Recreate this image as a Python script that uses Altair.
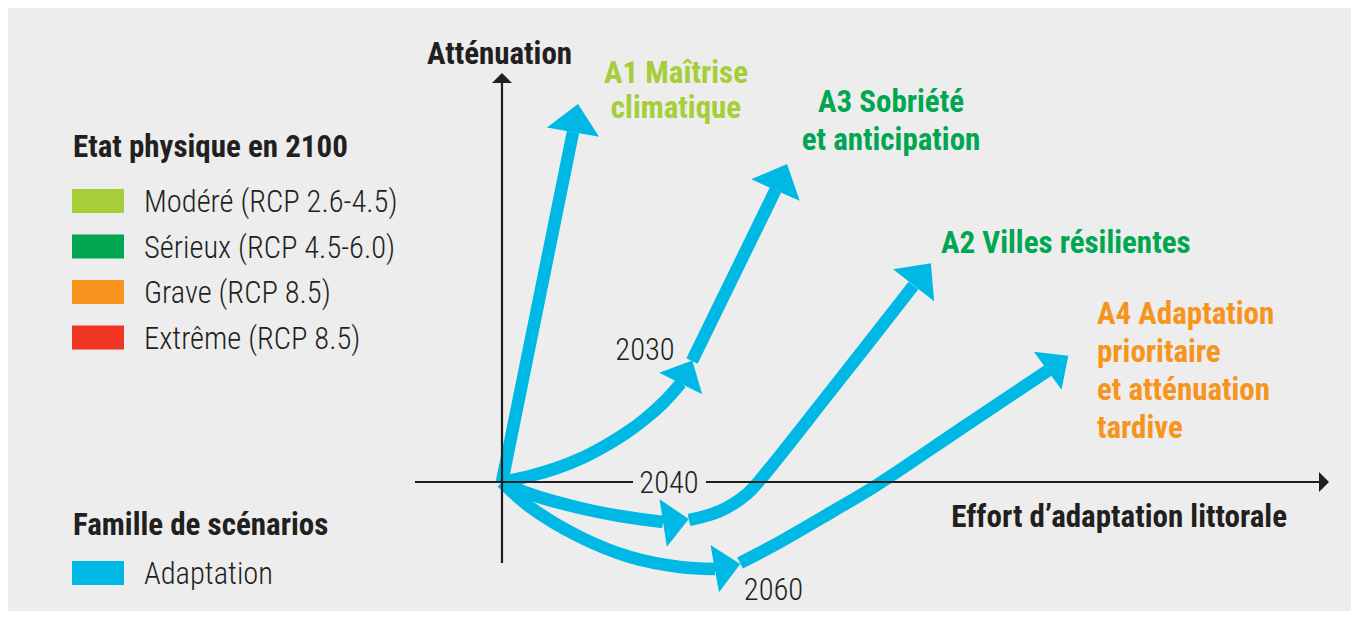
import altair as alt
import pandas as pd
import numpy as np

# ---------------------------------------------------------------
# Frame: x = effort d'adaptation littorale, y = atténuation
# (origin at the crossing of the two axes)
# ---------------------------------------------------------------
X_DOMAIN = [-494, 849]
Y_DOMAIN = [-129, 474]
W, H = 1343, 603

CYAN = "#00b8e4"
INK = "#231f20"
BG = "#ededed"

# ---- scenario trajectories (segments between arrowheads) ----
a1_path = [(0, 0), (71, 350)]
a3_path_1 = [(0, 0), (28, 6), (55, 14), (80, 24), (103, 36), (124, 49), (143, 63), (162, 80), (179, 99)]
a3_path_2 = [(190, 121), (273.5, 292)]
a2_path_1 = [(0, 0), (28, -12), (78, -26), (118, -34), (161, -40)]
a2_path_2 = [(187, -38), (218, -29), (245, -12), (258, 2), (328, 90), (411.5, 196.5)]
a4_path_1 = [(0, 0), (28, -25), (78, -55), (128, -75), (178, -85), (213, -87)]
a4_path_2 = [(238, -81), (278, -60), (328, -31), (375, -3), (460, 54), (546, 111.5)]

# ---- arrowheads: tip and base-middle points, base width ----
head_names = ["A1", "A3", "2030", "A2", "2040", "A4", "2060"]
head_tip_x = [76, 285, 190, 429, 187, 566, 238]
head_tip_y = [378, 318, 121, 219, -37, 126, -82]
head_base_x = [71, 273.5, 179, 411.5, 161, 546, 213]
head_base_y = [350, 292, 99, 196.5, -41, 111.5, -86.5]
head_width = [53, 53, 48, 52, 48, 47, 48]

# ---- axes ----
h_axis_x = [(-87, 131), (204, 817)]   # gap for the "2040" label
v_axis_y = (-81, 399)
axis_tip_x = 827
axis_tip_y = 409

# ---- scenario labels ----
scen_lines = [
    ["A1 Maîtrise", "climatique"],
    ["A3 Sobriété", "et anticipation"],
    ["A2 Villes résilientes"],
    ["A4 Adaptation", "prioritaire", "et atténuation", "tardive"],
]
scen_colors = ["#a6ce39", "#00a651", "#00a651", "#f7941d"]
scen_anchor_x = [174, 389, 439, 595]
scen_anchor_y = [399, 370, 229, 158]
scen_align = ["center", "center", "left", "left"]
scen_step = [35, 38, 38, 38]

year_labels = ["2030", "2040", "2060"]
year_x = [143, 167, 271.5]
year_y = [122, -11, -118]

# ---- legend ----
legend_title_1 = "Etat physique en 2100"
legend_items_1 = ["Modéré (RCP 2.6-4.5)", "Sérieux (RCP 4.5-6.0)", "Grave (RCP 8.5)", "Extrême (RCP 8.5)"]
legend_colors_1 = ["#a6ce39", "#00a651", "#f7941d", "#ef3524"]
legend_title_2 = "Famille de scénarios"
legend_items_2 = ["Adaptation"]
legend_colors_2 = [CYAN]

BOLD_FONT = "Roboto Condensed, Liberation Sans Narrow, DejaVu Sans Condensed, Roboto, sans-serif"
LIGHT_FONT = "Roboto Condensed, Liberation Sans Narrow, DejaVu Sans Condensed, Roboto, sans-serif"
BOLD_SIZE = 31
LIGHT_SIZE = 30.5

XS = alt.Scale(domain=X_DOMAIN, nice=False, zero=False)
YS = alt.Scale(domain=Y_DOMAIN, nice=False, zero=False)


def X(f="x"):
    return alt.X(f"{f}:Q", scale=XS, axis=None)


def Y(f="y"):
    return alt.Y(f"{f}:Q", scale=YS, axis=None)


# trajectories
rows = []
for seg, path in [("a1", a1_path), ("a3_1", a3_path_1), ("a3_2", a3_path_2),
                  ("a2_1", a2_path_1), ("a2_2", a2_path_2),
                  ("a4_1", a4_path_1), ("a4_2", a4_path_2)]:
    for i, (px, py) in enumerate(path):
        rows.append({"seg": seg, "order": i, "x": px, "y": py})
lines_df = pd.DataFrame(rows)

lines = alt.Chart(lines_df).mark_line(
    color=CYAN, strokeWidth=12.5, interpolate="catmull-rom", strokeCap="butt", strokeJoin="round"
).encode(x=X(), y=Y(), detail="seg:N", order="order:Q")

# arrowheads
tx, ty = np.array(head_tip_x, float), np.array(head_tip_y, float)
bx, by = np.array(head_base_x, float), np.array(head_base_y, float)
heads_df = pd.DataFrame({
    "name": head_names,
    "x": (tx + bx) / 2,
    "y": (ty + by) / 2,
    "angle": np.mod(np.degrees(np.arctan2(tx - bx, ty - by)), 360),
    "size": np.array(head_width, float) ** 2,
})
TRI = "M0,-0.54L1,0.54L-1,0.54Z"
heads = alt.Chart(heads_df).mark_point(
    shape=TRI, filled=True, color=CYAN, opacity=1, strokeWidth=0
).encode(x=X(), y=Y(), angle=alt.Angle("angle:Q", scale=None), size=alt.Size("size:Q", scale=None))

# axes
axes_df = pd.DataFrame(
    [{"x": a, "x2": b, "y": 0, "y2": 0} for a, b in h_axis_x]
    + [{"x": 0, "x2": 0, "y": v_axis_y[0], "y2": v_axis_y[1]}]
)
axes = alt.Chart(axes_df).mark_rule(color=INK, strokeWidth=2.2).encode(
    x=X(), x2="x2:Q", y=Y(), y2="y2:Q"
)
ax_heads_df = pd.DataFrame({
    "x": [(axis_tip_x + h_axis_x[-1][1]) / 2, 0],
    "y": [0, (axis_tip_y + v_axis_y[1]) / 2],
    "angle": [90, 0],
})
ax_heads = alt.Chart(ax_heads_df).mark_point(
    shape="M0,-0.5L1,0.5L-1,0.5Z", filled=True, color=INK, opacity=1, strokeWidth=0, size=400
).encode(x=X(), y=Y(), angle=alt.Angle("angle:Q", scale=None))

# axis titles
ax_title_df = pd.DataFrame({"t": ["Atténuation"], "x": [-2.5], "y": [418]})
ax_title_v = alt.Chart(ax_title_df).mark_text(
    align="center", baseline="alphabetic", font=BOLD_FONT, fontWeight="bold", fontSize=BOLD_SIZE, color=INK
).encode(x=X(), y=Y(), text="t:N")
ax_title_h_df = pd.DataFrame({"t": ["Effort d’adaptation littorale"], "x": [785], "y": [-45]})
ax_title_h = alt.Chart(ax_title_h_df).mark_text(
    align="right", baseline="alphabetic", font=BOLD_FONT, fontWeight="bold", fontSize=BOLD_SIZE, color=INK
).encode(x=X(), y=Y(), text="t:N")

# scenario labels
scen_layers = []
for lines_txt, col, ax_, ay_, al, st in zip(scen_lines, scen_colors, scen_anchor_x, scen_anchor_y, scen_align, scen_step):
    d = pd.DataFrame({"t": lines_txt, "x": [ax_] * len(lines_txt),
                      "y": [ay_ - i * st for i in range(len(lines_txt))]})
    scen_layers.append(alt.Chart(d).mark_text(
        align=al, baseline="alphabetic", font=BOLD_FONT, fontWeight="bold", fontSize=BOLD_SIZE, color=col
    ).encode(x=X(), y=Y(), text="t:N"))

# year labels
years_df = pd.DataFrame({"t": year_labels, "x": year_x, "y": year_y})
years = alt.Chart(years_df).mark_text(
    align="center", baseline="alphabetic", font=LIGHT_FONT, fontWeight=300, fontSize=LIGHT_SIZE, color=INK
).encode(x=X(), y=Y(), text="t:N")

# legend
LEG_X0, LEG_X1, LEG_TXT = -430, -378, -358
row1 = [281 - i * 45.5 for i in range(len(legend_items_1))]
row2 = [-91]
sw_df = pd.DataFrame({
    "x": LEG_X0, "x2": LEG_X1,
    "y": [r - 12 for r in row1 + row2], "y2": [r + 12 for r in row1 + row2],
    "c": legend_colors_1 + legend_colors_2,
})
swatches = alt.Chart(sw_df).mark_rect().encode(
    x=X(), x2="x2:Q", y=Y(), y2="y2:Q", color=alt.Color("c:N", scale=None)
)
lab_df = pd.DataFrame({"t": legend_items_1 + legend_items_2, "x": LEG_TXT,
                       "y": [r - 11 for r in row1 + row2]})
leg_labels = alt.Chart(lab_df).mark_text(
    align="left", baseline="alphabetic", font=LIGHT_FONT, fontWeight=300, fontSize=LIGHT_SIZE, color=INK
).encode(x=X(), y=Y(), text="t:N")
lt_df = pd.DataFrame({"t": [legend_title_1, legend_title_2], "x": [-429, -429], "y": [325, -53]})
leg_titles = alt.Chart(lt_df).mark_text(
    align="left", baseline="alphabetic", font=BOLD_FONT, fontWeight="bold", fontSize=BOLD_SIZE, color=INK
).encode(x=X(), y=Y(), text="t:N")

chart = alt.layer(
    lines, heads, axes, ax_heads, ax_title_v, ax_title_h, *scen_layers, years,
    swatches, leg_labels, leg_titles
).properties(
    width=W, height=H, padding=0, autosize="none", background=BG
).configure_view(stroke=None)

chart.save("out.html", embed_options={"renderer": "svg", "actions": False})
